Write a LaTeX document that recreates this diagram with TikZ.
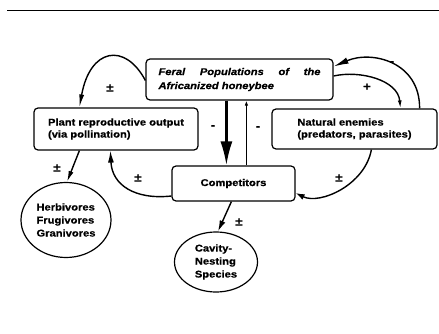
\documentclass[tikz,border=0pt]{standalone}
\usepackage{fontspec}
\setmainfont{Liberation Sans}[FakeStretch=1.14,BoldFeatures={FakeBold=0.7},BoldItalicFeatures={FakeBold=0.7}]
\usetikzlibrary{arrows.meta,calc,shapes.geometric}
\begin{document}
\begin{tikzpicture}[x=1pt,y=-1pt,
  lbl/.style={font=\fontsize{9.8}{12}\selectfont\bfseries},
  box/.style={draw,rounded corners=4pt,line width=1.2pt,align=left,inner sep=0pt,lbl},
  oval/.style={draw,ellipse,line width=1.2pt,align=left,inner sep=0pt,font=\fontsize{9.8}{13}\selectfont\bfseries},
  conn/.style={line width=1.4pt,-{Latex[length=10pt,width=5pt]}},
  sign/.style={font=\fontsize{11.5}{11.5}\selectfont\bfseries,inner sep=0pt},
]
\useasboundingbox (0,0) rectangle (439,334);
\fill[white] (0,0) rectangle (439,334);
\draw[line width=1.8pt] (7,10.5) -- (439,10.5);

% boxes
\node[box,minimum width=187pt,minimum height=41pt,font=\fontsize{9.8}{14}\selectfont\bfseries\itshape] (feral) at (239.5,79.5)
  {\makebox[162pt][s]{Feral Populations of the}\\Africanized honeybee};
\node[box,minimum width=164pt,minimum height=42pt] (plant) at (116,129)
  {Plant reproductive output\\(via pollination)};
\node[box,minimum width=165pt,minimum height=40pt] (ne) at (354.5,129)
  {Natural enemies\\(predators, parasites)};
\node[box,minimum width=123pt,minimum height=35pt] (comp) at (233.5,183.5) {Competitors};
\node[oval,minimum width=90pt,minimum height=75pt] (herb) at (66,220)
  {Herbivores\\Frugivores\\Granivores};
\node[oval,minimum width=83pt,minimum height=60pt] (cav) at (216,262)
  {Cavity-\\Nesting\\Species};

% connectors
\draw[conn,-{Latex[length=13pt,width=5pt]}] ($(feral.west)+(0,1)$) .. controls (125,42) and (90,48) .. ($(plant.north west)+(46,0)$);
\draw[conn,-{Latex[length=8pt,width=4pt]}] ($(feral.east)+(0,-3.5)$) .. controls (360,70) and (398,80) .. ($(ne.north west)+(129,0)$);
\draw[conn,-{Latex[length=15pt,width=6.5pt]}] ($(ne.north east)+(-18,0)$) .. controls (420,62) and (372,50) .. ($(feral.east)+(0,-13)$);
\draw[line width=2.4pt,-{Latex[length=24pt,width=12pt]}] ($(feral.south west)+(81,0)$) -- ($(comp.north west)+(55,0)$);
\draw[line width=1pt,-{Latex[length=5pt,width=3.5pt]}] ($(comp.north west)+(75,0)$) -- ($(feral.south west)+(101,0)$);
\draw[conn,-{Latex[length=12pt,width=6pt]}] ($(comp.west)+(0,12.5)$) .. controls (135,200) and (112,185) .. ($(plant.south west)+(77,0)$);
\draw[conn,-{Latex[length=9pt,width=6pt]}] ($(ne.south west)+(100,0)$) .. controls (365,185) and (320,205) .. ($(comp.east)+(0,9.5)$);
\draw[conn,-{Latex[length=11pt,width=6pt]}] ($(comp.south west)+(60,0)$) -- ($(cav.north)+(2,0)$);
\draw[conn,-{Latex[length=11pt,width=5pt]}] ($(plant.south west)+(46,0)$) -- ($(herb.north)+(1,0)$);

% signs
\node[sign] (s1) at (110,88) {±};
\node[sign] (s2) at (367,87) {+};
\node[sign] (s3) at (392,63) {-};
\node[sign] (s4) at (213,127) {-};
\node[sign] (s5) at (258,128) {-};
\node[sign] (s6) at (138,178) {±};
\node[sign] (s7) at (339,178) {±};
\node[sign] (s8) at (239,222) {±};
\node[sign] (s9) at (57,168) {±};
\end{tikzpicture}
\end{document}
